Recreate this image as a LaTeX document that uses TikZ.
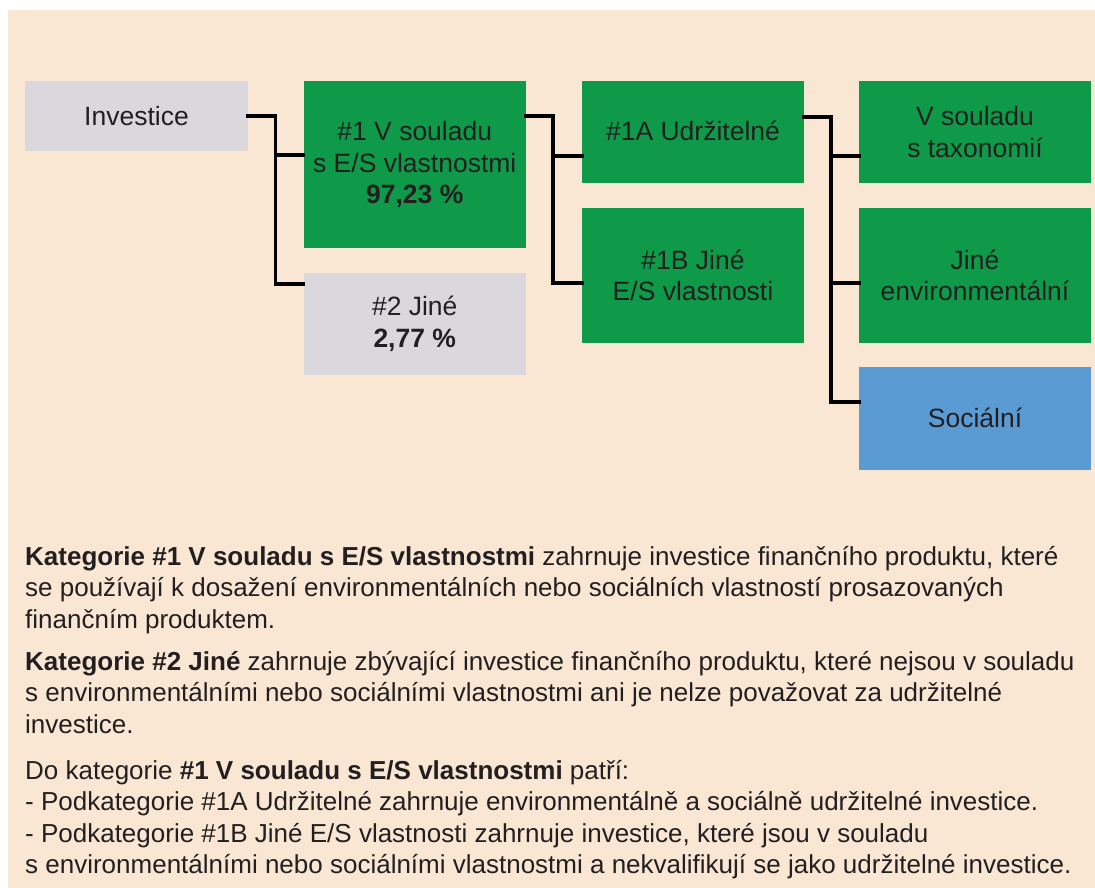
\documentclass[tikz,border=0pt]{standalone}
\usepackage{fontspec}
\setmainfont{Liberation Sans}
\definecolor{beige}{HTML}{F9E7D4}
\definecolor{boxgreen}{HTML}{0E9A48}
\definecolor{boxgray}{HTML}{DAD8DD}
\definecolor{boxblue}{HTML}{5B9BD4}
\definecolor{ink}{HTML}{231F20}
\tikzset{
  box/.style={inner sep=0pt, align=center, text=ink, font=\fontsize{26.5}{31.5}\selectfont},
  conn/.style={line width=3.8pt, black, line join=miter, line cap=rect},
  para/.style={anchor=base west, inner sep=0pt, text=ink, font=\fontsize{26}{31.5}\selectfont}
}
\begin{document}
\begin{tikzpicture}[x=1pt,y=-1pt]
\useasboundingbox (0,0) rectangle (1095,888);
\fill[white] (0,0) rectangle (1095,888);
\fill[beige] (8,10) rectangle (1095,888);

% boxes
\node[box, fill=boxgray, minimum width=223pt, minimum height=70pt] (inv) at (136.5,116) {Investice};
\node[box, fill=boxgreen, minimum width=222.5pt, minimum height=167pt] (c1) at (414.75,164.5) {\#1 V souladu\\s E/S vlastnostmi\\\textbf{97,23 \%}};
\node[box, fill=boxgray, minimum width=222.5pt, minimum height=102pt] (c2) at (414.75,324) {\#2 Jiné\\\textbf{2,77 \%}};
\node[box, fill=boxgreen, minimum width=222pt, minimum height=102pt] (a) at (693,132) {\raisebox{2pt}{\#1A Udržitelné}};
\node[box, fill=boxgreen, minimum width=222pt, minimum height=135pt] (b) at (693,275.5) {\#1B Jiné\\E/S vlastnosti};
\node[box, fill=boxgreen, minimum width=232pt, minimum height=102pt] (tax) at (975,132) {V souladu\\s taxonomií};
\node[box, fill=boxgreen, minimum width=232pt, minimum height=135pt] (env) at (975,275.5) {Jiné\\environmentální};
\node[box, fill=boxblue, minimum width=232pt, minimum height=103pt] (soc) at (975,418.5) {\raisebox{2pt}{Sociální}};

% connectors
\coordinate (j1) at (275.5,116);
\coordinate (k1) at (275.5,155);
\draw[conn] (inv.east |- j1) -- (j1) |- (c2.west |- 0,284);
\draw[conn] (k1) -- (c1.west |- k1);

\coordinate (j2) at (553,116);
\coordinate (k2) at (553,156);
\draw[conn] (c1.east |- j2) -- (j2) |- (b.west |- 0,283);
\draw[conn] (k2) -- (a.west |- k2);

\coordinate (j3) at (831,117);
\coordinate (k3) at (831,156);
\coordinate (m3) at (831,283);
\draw[conn] (a.east |- j3) -- (j3) |- (soc.west |- 0,402);
\draw[conn] (k3) -- (tax.west |- k3);
\draw[conn] (m3) -- (env.west |- m3);

% text
\node[para] (l1) at (25,565) {\textbf{Kategorie \#1 V souladu s E/S vlastnostmi} zahrnuje investice finančního produktu, které};
\node[para] (l2) at (25,596.5) {se používají k dosažení environmentálních nebo sociálních vlastností prosazovaných};
\node[para] (l3) at (25,628) {finančním produktem.};
\node[para] (l4) at (25,670) {\textbf{Kategorie \#2 Jiné} zahrnuje zbývající investice finančního produktu, které nejsou v souladu};
\node[para] (l5) at (25,701.5) {s environmentálními nebo sociálními vlastnostmi ani je nelze považovat za udržitelné};
\node[para] (l6) at (25,733) {investice.};
\node[para] (l7) at (25,779) {Do kategorie \textbf{\#1 V souladu s E/S vlastnostmi} patří:};
\node[para] (l8) at (25,810.5) {- Podkategorie \#1A Udržitelné zahrnuje environmentálně a sociálně udržitelné investice.};
\node[para] (l9) at (25,842) {- Podkategorie \#1B Jiné E/S vlastnosti zahrnuje investice, které jsou v souladu};
\node[para] (l10) at (25,873.5) {s environmentálními nebo sociálními vlastnostmi a nekvalifikují se jako udržitelné investice.};
\end{tikzpicture}
\end{document}
